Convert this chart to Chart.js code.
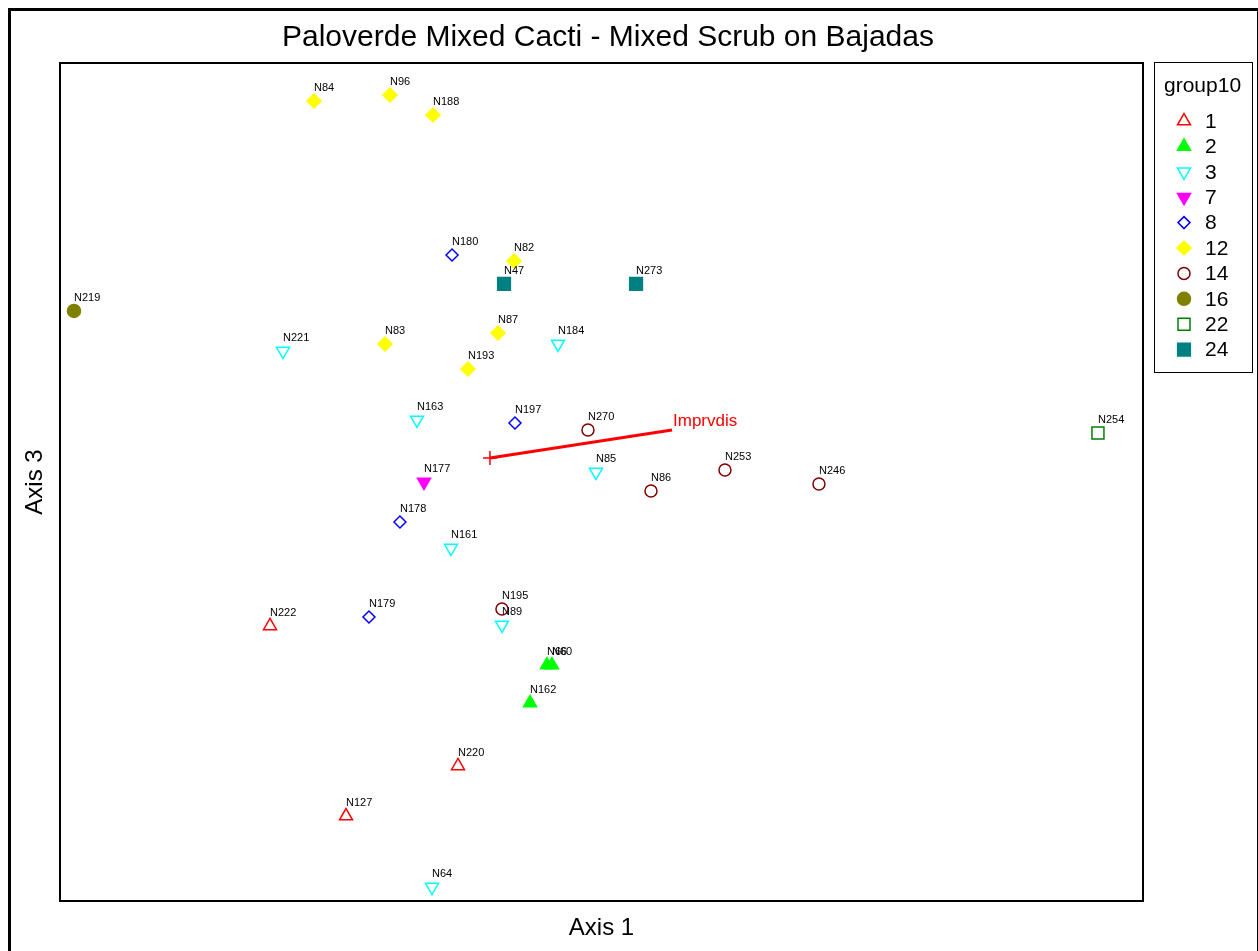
<!DOCTYPE html>
<html>
<head>
<meta charset="utf-8">
<script src="https://cdn.jsdelivr.net/npm/chart.js@4.4.1/dist/chart.umd.min.js"></script>
<style>
  body { margin: 0; background: #fff; }
  #wrap { width: 1258px; height: 951px; }
</style>
</head>
<body>
<div id="wrap"><canvas id="ordChart" width="1258" height="951"></canvas></div>
<script>
// plot scores (Axis 1 / Axis 3, rescaled 0-100)
var plotIds = ['N222','N220','N127','N66','N60','N162','N221','N184','N163','N85','N161','N89','N64','N177',
    'N180','N197','N178','N179','N84','N96','N188','N82','N87','N83','N193','N270','N253','N86','N246','N195',
    'N219','N254','N47','N273'];
var plotGroup = ['1','1','1','2','2','2','3','3','3','3','3','3','3','7','8','8','8','8',
    '12','12','12','12','12','12','12','14','14','14','14','14','16','22','24','24'];
var axis1 = [19.39,36.75,26.41,44.97,45.43,43.40,20.59,45.98,32.96,49.49,36.10,40.81,34.35,33.61,
    36.20,42.01,31.39,28.53,23.45,30.47,34.44,41.92,40.44,30.01,37.67,48.75,61.40,54.57,70.08,40.81,
    1.29,95.84,41.00,53.19];
var axis3 = [32.82,16.11,10.14,28.16,28.16,23.63,65.63,66.47,57.40,51.19,42.12,32.94,1.67,50.00,
    77.09,57.04,45.23,33.89,95.47,96.18,93.79,76.37,67.78,66.47,63.48,56.21,51.43,48.93,49.76,34.84,
    70.41,55.85,73.63,73.63];

var groups = ['1','2','3','7','8','12','14','16','22','24'];

// joint plot vector
var vectorName = 'Imprvdis';
var vectorFrom = [39.70, 52.86];
var vectorTo = [56.51, 56.21];

// marker look for each group: [pointStyle, rotation, colour, filled, radius]
var groupMarker = {
    '1':  ['triangle', 0,   '#ff0000', false, 7.5],
    '2':  ['triangle', 0,   '#00ff00', true,  7.5],
    '3':  ['triangle', 180, '#00ffff', false, 7.5],
    '7':  ['triangle', 180, '#ff00ff', true,  7.5],
    '8':  ['rectRot',  0,   '#0000ff', false, 6],
    '12': ['rectRot',  0,   '#ffff00', true,  7],
    '14': ['circle',   0,   '#800000', false, 6],
    '16': ['circle',   0,   '#808000', true,  6.5],
    '22': ['rect',     0,   '#008000', false, 8.5],
    '24': ['rect',     0,   '#008080', true,  9]
};

var FONT = 'Arial, "Liberation Sans", sans-serif';

function buildDatasets() {
    var sets = [];
    groups.forEach(function (g) {
        var m = groupMarker[g];
        var pts = [];
        for (var i = 0; i < plotIds.length; i++) {
            if (plotGroup[i] === g) {
                pts.push({ x: axis1[i], y: axis3[i], id: plotIds[i] });
            }
        }
        sets.push({
            label: g,
            data: pts,
            pointStyle: m[0],
            rotation: m[1],
            pointRadius: m[4],
            pointBorderWidth: 1.5,
            borderColor: m[2],
            backgroundColor: m[3] ? m[2] : 'rgba(0,0,0,0)',
            showLine: false
        });
    });
    sets.push({
        label: vectorName,
        isVector: true,
        type: 'line',
        data: [{ x: vectorFrom[0], y: vectorFrom[1] }, { x: vectorTo[0], y: vectorTo[1] }],
        borderColor: '#ff0000',
        borderWidth: 3,
        pointStyle: 'cross',
        pointRadius: [7, 0],
        pointBorderColor: '#ff0000',
        pointBorderWidth: 1.5,
        fill: false
    });
    return sets;
}

var decorPlugin = {
    id: 'decor',
    beforeDraw: function (chart) {
        var ctx = chart.ctx;
        ctx.save();
        ctx.fillStyle = '#fff';
        ctx.fillRect(0, 0, chart.width, chart.height);
        ctx.restore();
    },
    afterDatasetsDraw: function (chart) {
        var ctx = chart.ctx;
        var a = chart.chartArea;
        ctx.save();

        // plot labels
        ctx.font = '11px ' + FONT;
        ctx.fillStyle = '#000';
        ctx.textAlign = 'left';
        ctx.textBaseline = 'alphabetic';
        chart.data.datasets.forEach(function (ds, di) {
            var meta = chart.getDatasetMeta(di);
            if (ds.isVector) {
                var tip = meta.data[1];
                ctx.save();
                ctx.font = '17px ' + FONT;
                ctx.fillStyle = '#ff0000';
                ctx.fillText(vectorName, tip.x + 1, tip.y - 4);
                ctx.restore();
                return;
            }
            meta.data.forEach(function (el, i) {
                ctx.fillText(ds.data[i].id, el.x, el.y - 10);
            });
        });

        // frames
        ctx.strokeStyle = '#000';
        ctx.lineWidth = 2;
        ctx.strokeRect(a.left, a.top, a.right - a.left, a.bottom - a.top);
        ctx.lineWidth = 3;
        ctx.strokeRect(9.5, 9.5, 1249, 980);

        // title and axis titles
        ctx.fillStyle = '#000';
        ctx.textAlign = 'center';
        ctx.textBaseline = 'middle';
        ctx.font = '30px ' + FONT;
        ctx.fillText('Paloverde Mixed Cacti - Mixed Scrub on Bajadas', 608, 38);
        ctx.font = '24px ' + FONT;
        ctx.fillText('Axis 1', (a.left + a.right) / 2, 928);
        ctx.save();
        ctx.translate(35, (a.top + a.bottom) / 2);
        ctx.rotate(-Math.PI / 2);
        ctx.fillText('Axis 3', 0, 0);
        ctx.restore();

        // legend box
        ctx.lineWidth = 1;
        ctx.strokeRect(1154.5, 62.5, 98, 310);
        ctx.textAlign = 'left';
        ctx.font = '21px ' + FONT;
        ctx.fillText('group10', 1164, 86);
        groups.forEach(function (g, i) {
            var m = groupMarker[g];
            var y = 121 + i * 25.4;
            ctx.strokeStyle = m[2];
            ctx.fillStyle = m[3] ? m[2] : 'rgba(0,0,0,0)';
            ctx.lineWidth = 1.5;
            Chart.helpers.drawPoint(ctx, {
                pointStyle: m[0], rotation: m[1], radius: m[4], borderWidth: 1.5
            }, 1184, y);
            ctx.fillStyle = '#000';
            ctx.fillText(g, 1205, y + 1);
        });
        ctx.restore();
    }
};

new Chart(document.getElementById('ordChart'), {
    type: 'scatter',
    data: { datasets: buildDatasets() },
    options: {
        responsive: false,
        animation: false,
        layout: { padding: { left: 60, right: 115, top: 63, bottom: 50 } },
        scales: {
            x: { type: 'linear', min: 0, max: 100, display: false },
            y: { type: 'linear', min: 0, max: 100, display: false }
        },
        plugins: {
            legend: { display: false },
            tooltip: { enabled: false }
        }
    },
    plugins: [decorPlugin]
});
</script>
</body>
</html>
